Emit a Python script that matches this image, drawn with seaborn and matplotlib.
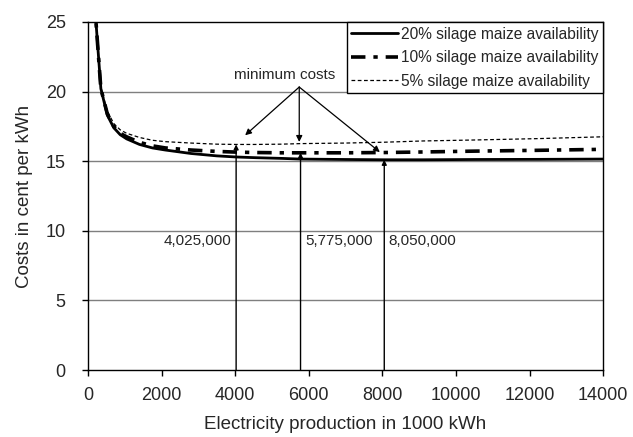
import matplotlib
matplotlib.use("Agg")
import matplotlib.pyplot as plt
import seaborn as sns
import pandas as pd

sns.set_theme(style="white")
plt.rcParams['font.family'] = ['Liberation Sans', 'DejaVu Sans']

# Data (electricity production in 1000 kWh, costs in cent per kWh)
production = [175, 350, 525, 700, 875, 1050, 1400, 1750, 2100, 2800, 3500, 4025,
              4550, 5250, 5775, 7000, 8050, 9100, 10500, 12250, 14000]
cost_20 = [26.5, 20.2, 18.3, 17.4, 16.9, 16.6, 16.2, 15.95, 15.8, 15.55, 15.38, 15.3,
           15.25, 15.2, 15.15, 15.12, 15.1, 15.1, 15.12, 15.13, 15.15]
cost_10 = [26.5, 20.2, 18.4, 17.5, 17.0, 16.75, 16.35, 16.1, 15.95, 15.8, 15.7, 15.65,
           15.62, 15.6, 15.6, 15.6, 15.62, 15.66, 15.72, 15.78, 15.85]
cost_5 = [26.5, 20.3, 18.6, 17.7, 17.25, 17.0, 16.7, 16.5, 16.4, 16.3, 16.22, 16.2,
          16.2, 16.22, 16.26, 16.3, 16.36, 16.45, 16.52, 16.62, 16.75]
series_labels = ["20% silage maize availability", "10% silage maize availability",
                 "5% silage maize availability"]

min_x = [4025, 5775, 8050]
min_y = [16.2, 15.6, 15.1]
min_labels = ["4,025,000", "5,775,000", "8,050,000"]

x_ticks = [0, 2000, 4000, 6000, 8000, 10000, 12000, 14000]
y_ticks = [0, 5, 10, 15, 20, 25]

df = pd.DataFrame({
    "production": production * 3,
    "cost": cost_20 + cost_10 + cost_5,
    "series": [series_labels[0]] * len(production) + [series_labels[1]] * len(production)
              + [series_labels[2]] * len(production),
})

fig = plt.figure(figsize=(6.33, 4.37), dpi=100)
ax = fig.add_axes([0.139, 0.153, 0.814, 0.797])

styles = {
    series_labels[0]: dict(lw=2.0, ls="-"),
    series_labels[1]: dict(lw=2.6, ls=(0, (4, 2.2, 1.2, 2.2))),
    series_labels[2]: dict(lw=0.9, ls=(0, (3, 2))),
}
for lab in series_labels:
    sub = df[df["series"] == lab]
    sns.lineplot(data=sub, x="production", y="cost", ax=ax, color="black",
                 label=lab, estimator=None, **styles[lab])

for y in [5, 10, 15, 20]:
    ax.axhline(y, color="#7f7f7f", lw=1.0, zorder=0)

# vertical lines at minima
for xv, yv, lab, i in zip(min_x, min_y, min_labels, range(3)):
    ax.annotate("", xy=(xv, yv), xytext=(xv, 0),
                arrowprops=dict(arrowstyle="-|>", color="black", lw=1.0,
                                mutation_scale=7, shrinkA=0, shrinkB=0))
    if i == 0:
        ax.text(xv - 120, 9.3, lab, ha="right", va="center", fontsize=11)
    else:
        ax.text(xv + 120, 9.3, lab, ha="left", va="center", fontsize=11)

# minimum costs arrows
origin = (5740, 20.32)
targets = [(4270, 16.86), (5740, 16.38), (7930, 15.65)]
for t in targets:
    ax.annotate("", xy=t, xytext=origin,
                arrowprops=dict(arrowstyle="-|>", color="black", lw=0.9,
                                mutation_scale=9, shrinkA=0, shrinkB=0))
ax.text(5330, 21.15, "minimum costs", ha="center", va="center", fontsize=11)

ax.set_xlim(0, 14000)
ax.set_ylim(0, 25)
ax.set_xticks(x_ticks)
ax.set_yticks(y_ticks)
ax.tick_params(axis="x", direction="out", length=4, width=1, color="black",
               labelsize=13, pad=8, bottom=True)
ax.tick_params(axis="y", direction="out", length=4, width=1, color="black",
               labelsize=13, pad=12, left=True)
ax.set_xlabel("Electricity production in 1000 kWh", fontsize=13.5, labelpad=9)
ax.set_ylabel("Costs in cent per kWh", fontsize=13.5, labelpad=9)
for s in ax.spines.values():
    s.set_color("black")
    s.set_linewidth(1.0)

leg = ax.legend(loc="upper right", bbox_to_anchor=(1.0, 1.0), fontsize=11.2,
                frameon=True, fancybox=False, framealpha=1, edgecolor="black",
                borderaxespad=0, borderpad=0.3, handlelength=3.0,
                handletextpad=0.2, labelspacing=0.55)
leg.get_frame().set_linewidth(1.0)

fig.savefig("out.png", dpi=100)
